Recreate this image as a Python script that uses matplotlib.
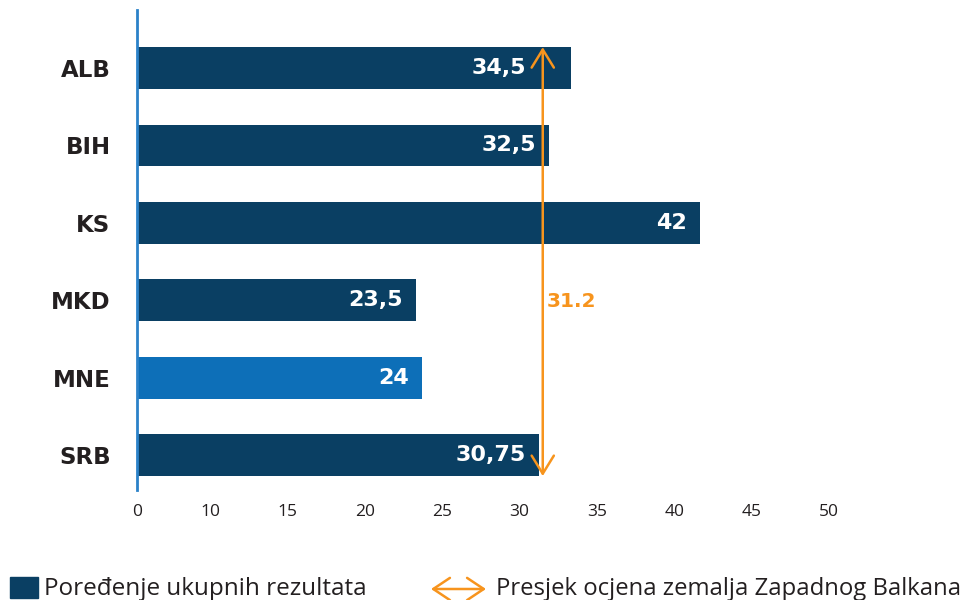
import matplotlib.pyplot as plt
from matplotlib.patches import Rectangle, FancyArrowPatch

# data (bar lengths as drawn, labels as printed)
countries = ["ALB", "BIH", "KS", "MKD", "MNE", "SRB"]
bar_lengths = [33.3, 31.9, 41.65, 23.3, 23.7, 31.25]
value_labels = ["34,5", "32,5", "42", "23,5", "24", "30,75"]
average = 31.5
average_label = "31.2"
tick_values = [5.28, 10, 15, 20, 25, 30, 35, 40, 45, 50]
tick_labels = ["0", "10", "15", "20", "25", "30", "35", "40", "45", "50"]
highlight = "MNE"

NAVY = "#0a3f63"
BRIGHT = "#0d6fb8"
AXIS_BLUE = "#2b82c9"
ORANGE = "#f7941d"
TEXT = "#231f20"
BOLD = ["DejaVu Sans"]

plt.rcParams["font.family"] = ["Open Sans", "DejaVu Sans"]

fig = plt.figure(figsize=(9.68, 6.0), dpi=100)
W, H = 968, 600
x_left = 5.28
ax = fig.add_axes([137 / W, 1 - 490 / H, 770 / W, 480 / H])
ax.set_xlim(x_left, x_left + 770 / 15.475)
ax.set_ylim(5.45, -0.75)

ypos = list(range(len(countries)))
colors = [BRIGHT if c == highlight else NAVY for c in countries]
ax.barh(ypos, [b - x_left for b in bar_lengths], left=x_left,
        height=0.54, color=colors, zorder=2)

px = 1 / 15.475  # one pixel in data units
for y, b, lab in zip(ypos, bar_lengths, value_labels):
    end = b - 13 * px
    if 0.5 < b - average < 3:
        end = average - 17 * px
    ax.text(end, y, lab, ha="right", va="center", color="white",
            fontsize=16, fontweight="bold", family=BOLD, zorder=3)

# average arrow
ax.annotate("", xy=(average, -0.27), xytext=(average, 5.27),
            arrowprops=dict(arrowstyle="<->,head_length=1.3,head_width=0.8",
                            color=ORANGE, lw=1.8, shrinkA=0, shrinkB=0),
            zorder=4)
ax.text(average + 4 * px, 3.02, average_label, ha="left", va="center",
        color=ORANGE, fontsize=14.5, fontweight="heavy", family=BOLD)

for s in ["top", "right", "bottom"]:
    ax.spines[s].set_visible(False)
ax.spines["left"].set_color(AXIS_BLUE)
ax.spines["left"].set_linewidth(2)
ax.spines["left"].set_zorder(5)

ax.set_yticks(ypos)
ax.set_yticklabels(countries, fontsize=16.5, fontweight="bold", color=TEXT,
                   family=BOLD)
ax.set_xticks(tick_values)
ax.set_xticklabels(tick_labels, fontsize=12.5, color=TEXT)
ax.tick_params(axis="y", length=0, pad=19)
ax.tick_params(axis="x", length=0, pad=10)

# legend drawn in figure pixels
fig.patches.append(Rectangle((10 / W, 1 - 598 / H), 28 / W, 21 / H,
                             transform=fig.transFigure, color=NAVY))
fig.text(44 / W, 1 - 589 / H, "Poređenje ukupnih rezultata", fontsize=17.5,
         color=TEXT, va="center", ha="left")
fig.patches.append(FancyArrowPatch(
    (431 / W, 1 - 589 / H), (486 / W, 1 - 589 / H), transform=fig.transFigure,
    arrowstyle="<->,head_length=12,head_width=8", color=ORANGE, lw=1.8,
    shrinkA=0, shrinkB=0))
fig.text(496 / W, 1 - 589 / H, "Presjek ocjena zemalja Zapadnog Balkana",
         fontsize=17.2, color=TEXT, va="center", ha="left")

fig.savefig("out.png", dpi=100)
